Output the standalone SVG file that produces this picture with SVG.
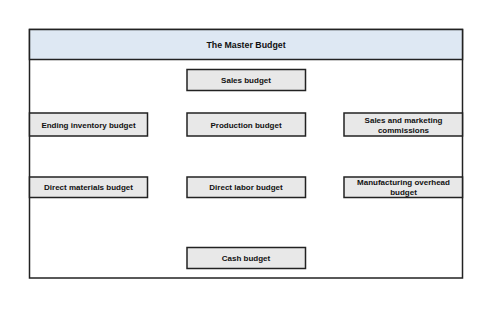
<svg xmlns="http://www.w3.org/2000/svg" width="480" height="331" viewBox="0 0 480 331">
<style>
.box{fill:#e8e8e8;stroke:#222;stroke-width:1.5}
.t{font-family:"Liberation Sans",Arial,sans-serif;font-size:8px;font-weight:bold;fill:#111;text-anchor:middle}
</style>
<rect width="480" height="331" fill="#fff"/>
<g id="frame">
<rect x="29.5" y="29.5" width="433" height="248.5" fill="#fff" stroke="#222" stroke-width="1.5"/>
<rect x="29.5" y="29.5" width="433" height="30" fill="#dee8f3" stroke="#222" stroke-width="1.5"/>
<text class="t" x="246" y="48" style="font-size:8.8px">The Master Budget</text>
</g>
<g id="connectors"></g>
<g id="sales"><rect class="box" x="187" y="69.5" width="118.5" height="21"/><text class="t" x="246" y="82.5">Sales budget</text></g>
<g id="ending"><rect class="box" x="29.5" y="113" width="118" height="23"/><text class="t" x="88.5" y="127.5">Ending inventory budget</text></g>
<g id="production"><rect class="box" x="187" y="113" width="118.5" height="23"/><text class="t" x="246" y="127.5">Production budget</text></g>
<g id="salesmkt"><rect class="box" x="344" y="113" width="118.5" height="23"/><text class="t" x="403.5" y="122.5">Sales and marketing</text><text class="t" x="403.5" y="132.5">commissions</text></g>
<g id="directmat"><rect class="box" x="29.5" y="177" width="118" height="20.5"/><text class="t" x="88.5" y="190">Direct materials budget</text></g>
<g id="directlabor"><rect class="box" x="187" y="177" width="118.5" height="20.5"/><text class="t" x="246" y="190">Direct labor budget</text></g>
<g id="mfgoh"><rect class="box" x="344" y="177" width="118.5" height="20.5"/><text class="t" x="403.5" y="185">Manufacturing overhead</text><text class="t" x="403.5" y="195">budget</text></g>
<g id="cash"><rect class="box" x="187" y="247.5" width="118.5" height="21"/><text class="t" x="246" y="260.5">Cash budget</text></g>
</svg>
